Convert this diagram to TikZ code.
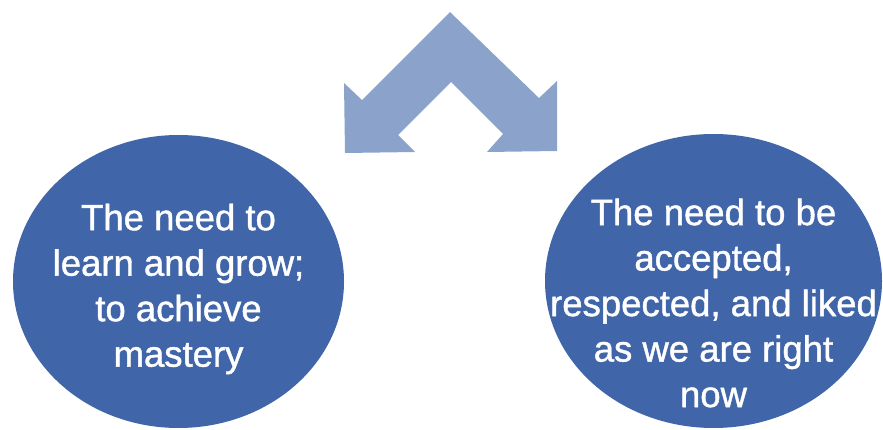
\documentclass[tikz,border=0pt]{standalone}
\usepackage{fontspec}
\setmainfont{Liberation Sans}
\newfontfamily\bubblefont{Liberation Sans}[UprightFeatures={FakeBold=1.2}]
\usetikzlibrary{shapes.geometric}
\definecolor{circblue}{RGB}{64,102,169}
\definecolor{arrowblue}{RGB}{139,163,203}
\tikzset{
  bubble/.style={ellipse, fill=circblue, draw=none, inner sep=0pt},
  bubbletext/.style={text=white, align=center, inner sep=0pt,
    font=\bubblefont\fontsize{36.5}{45.5}\selectfont}
}
\begin{document}
\begin{tikzpicture}[x=1pt,y=-1pt]
\useasboundingbox (0,0) rectangle (883,430);
% split arrow
\fill[arrowblue] (450,12) -- (539,98) -- (557,81) -- (557,151) -- (487,152)
  -- (503,134) -- (451,82) -- (398,135) -- (415,152) -- (345,153)
  -- (344,83) -- (362,100) -- cycle;
% circles
\node[bubble, minimum width=331pt, minimum height=293pt] (left) at (178.5,281.5) {};
\node[bubble, minimum width=337pt, minimum height=294pt] (right) at (713.5,281) {};
\node[bubbletext] (lefttext) at ([yshift=-7.5pt]left.center)
  {The need to\\learn and grow;\\to achieve\\mastery};
\node[bubbletext] (righttext) at ([yshift=-22pt]right.center)
  {The need to be\\accepted,\\respected, and liked\\as we are right\\now};
\end{tikzpicture}
\end{document}
